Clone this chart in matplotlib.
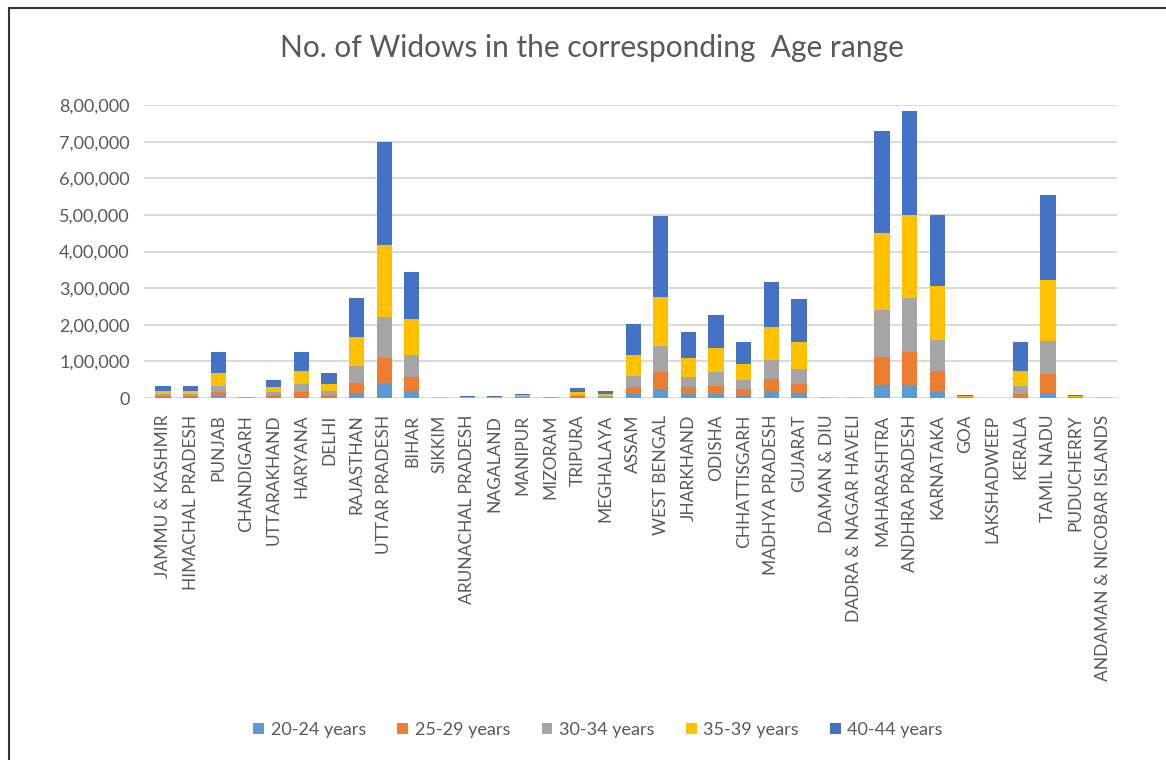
import numpy as np
import matplotlib
matplotlib.use('Agg')
import matplotlib.pyplot as plt
from matplotlib.lines import Line2D
from matplotlib.ticker import FuncFormatter

plt.rcParams['font.family'] = ['Lato', 'DejaVu Sans']

states = ['JAMMU & KASHMIR', 'HIMACHAL PRADESH', 'PUNJAB', 'CHANDIGARH', 'UTTARAKHAND',
          'HARYANA', 'DELHI', 'RAJASTHAN', 'UTTAR PRADESH', 'BIHAR', 'SIKKIM',
          'ARUNACHAL PRADESH', 'NAGALAND', 'MANIPUR', 'MIZORAM', 'TRIPURA', 'MEGHALAYA',
          'ASSAM', 'WEST BENGAL', 'JHARKHAND', 'ODISHA', 'CHHATTISGARH', 'MADHYA PRADESH',
          'GUJARAT', 'DAMAN & DIU', 'DADRA & NAGAR HAVELI', 'MAHARASHTRA', 'ANDHRA PRADESH',
          'KARNATAKA', 'GOA', 'LAKSHADWEEP', 'KERALA', 'TAMIL NADU', 'PUDUCHERRY',
          'ANDAMAN & NICOBAR ISLANDS']

age_groups = ['20-24 years', '25-29 years', '30-34 years', '35-39 years', '40-44 years']

w20_24 = [2000, 2000, 5000, 300, 3000, 4000, 3000, 15000, 42000, 20000, 200,
          400, 400, 800, 300, 1500, 1000, 11000, 24000, 11000, 11000, 9000, 18000,
          13000, 200, 200, 36000, 32000, 18000, 500, 100, 3000, 15000, 500, 200]
w25_29 = [4000, 4000, 11000, 500, 5000, 12000, 6000, 27000, 67000, 38000, 300,
          800, 800, 1500, 500, 3000, 2000, 20000, 48000, 19000, 22000, 15000, 33000,
          25000, 300, 300, 75000, 93000, 55000, 1000, 150, 8000, 50000, 1000, 300]
w30_34 = [6000, 6000, 17000, 700, 8000, 22000, 9000, 46000, 112000, 59000, 500,
          1200, 1200, 2200, 700, 5000, 3500, 30000, 71000, 28000, 37000, 24000, 52000,
          40000, 500, 500, 130000, 148000, 86000, 1500, 200, 21000, 90000, 2000, 500]
w35_39 = [8000, 8000, 34000, 900, 13000, 36000, 21000, 78000, 198000, 98000, 700,
          1600, 1600, 3000, 1000, 7000, 5000, 56000, 133000, 51000, 66000, 46000, 90000,
          76000, 700, 700, 209000, 227000, 147000, 2000, 250, 43000, 166000, 2500, 700]
w40_44 = [12000, 12000, 58000, 1200, 21000, 53000, 28000, 108000, 281000, 128000, 900,
          2000, 2000, 4000, 1200, 10000, 7000, 85000, 221000, 70000, 91000, 60000, 123000,
          115000, 900, 900, 280000, 285000, 194000, 2500, 300, 78000, 232000, 3000, 900]

series = [w20_24, w25_29, w30_34, w35_39, w40_44]
colors = ['#5B9BD5', '#ED7D31', '#A5A5A5', '#FFC000', '#4472C4']
text_col = '#595959'

fig = plt.figure(figsize=(11.66, 7.6), dpi=100)
ax = fig.add_axes([0.1232, 0.4763, 0.8348, 0.3855])

x = np.arange(len(states))
bottom = np.zeros(len(states))
for vals, col, lab in zip(series, colors, age_groups):
    ax.bar(x, vals, 0.55, bottom=bottom, color=col, label=lab, zorder=3)
    bottom += np.array(vals)

ax.set_xlim(-0.7, len(states) - 0.5)
ax.set_ylim(0, 800000)
ax.set_yticks(np.arange(0, 800001, 100000))


def indian(v, pos):
    v = int(round(v))
    if v == 0:
        return '0'
    lakh = v // 100000
    rest = v % 100000
    return '{},{:02d},{:03d}'.format(lakh, rest // 1000, rest % 1000)


ax.yaxis.set_major_formatter(FuncFormatter(indian))
ax.grid(axis='y', color='#D9D9D9', linewidth=1.4, zorder=0)
ax.set_xticks(x)
ax.set_xticklabels(states, rotation=90, va='top', ha='center')
ax.tick_params(axis='x', length=0, pad=12, labelsize=12.5, labelcolor=text_col)
ax.tick_params(axis='y', length=0, pad=10, labelsize=13, labelcolor=text_col)
for s in ax.spines.values():
    s.set_visible(False)

fig.text(0.508, 0.937, 'No. of Widows in the corresponding  Age range', ha='center', va='center',
         fontsize=21.5, color=text_col)

leg = fig.legend(loc='center', bbox_to_anchor=(0.513, 0.04), ncol=5, frameon=False,
                 fontsize=13, labelcolor=text_col, handlelength=0.6, handleheight=0.6,
                 handletextpad=0.35, columnspacing=1.75)

# outer border (top and left only visible in the reference)
fig.add_artist(Line2D([0.008, 1.0], [0.990, 0.990], color='#333333', linewidth=1.5))
fig.add_artist(Line2D([0.008, 0.008], [0.0, 0.990], color='#333333', linewidth=1.5))

fig.savefig('out.png', dpi=100)
